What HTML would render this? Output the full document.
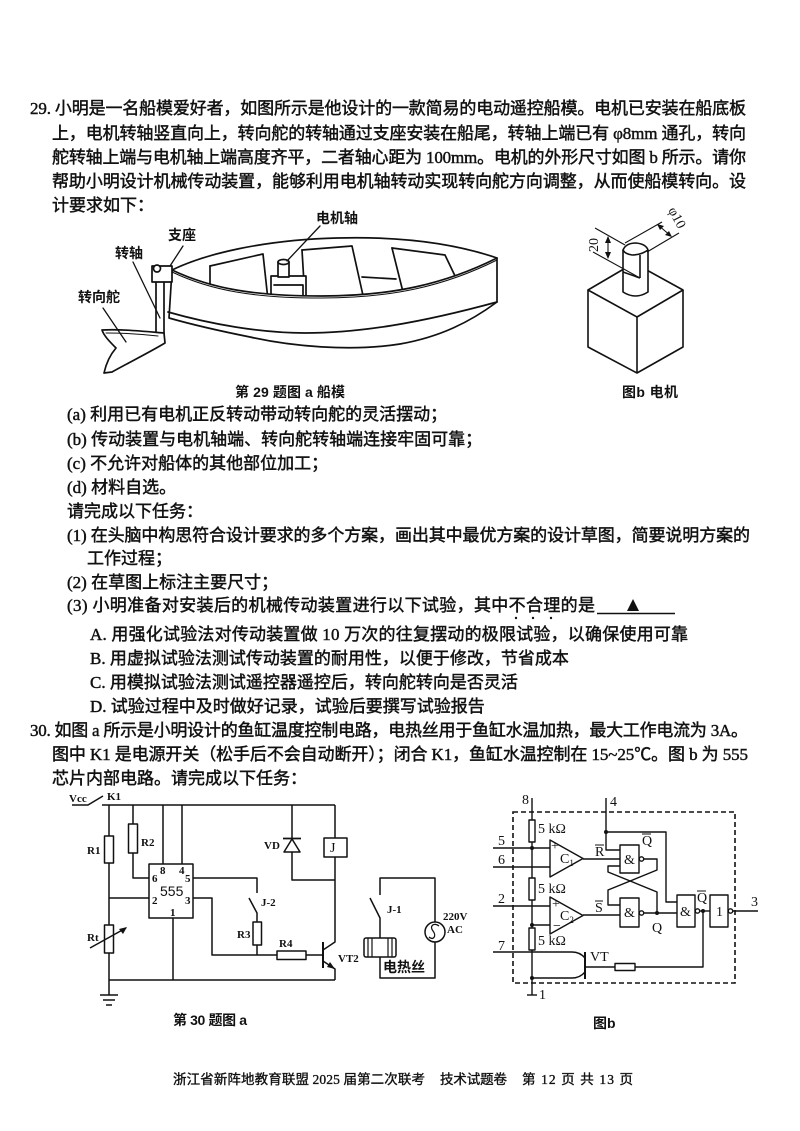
<!DOCTYPE html>
<html><head><meta charset="utf-8">
<style>
html,body{margin:0;padding:0;background:#fff;}
svg{display:block;}
.t{font-family:"Liberation Serif","Noto Sans CJK SC",serif;font-size:17px;fill:#111;stroke:#111;stroke-width:0.45px;}
.l{font-family:"Liberation Sans","Noto Sans CJK SC",sans-serif;font-size:14px;font-weight:bold;fill:#111;}
.c{font-family:"Liberation Serif","Noto Sans CJK SC",serif;font-size:11px;font-weight:bold;fill:#111;}
.b{font-family:"Liberation Serif","Noto Sans CJK SC",serif;font-size:14px;fill:#111;}
.f{font-family:"Liberation Serif","Noto Sans CJK SC",serif;font-size:13.5px;fill:#111;stroke:#111;stroke-width:0.35px;}
</style></head><body>
<svg width="800" height="1131" viewBox="0 0 800 1131" xmlns="http://www.w3.org/2000/svg">
<rect width="800" height="1131" fill="#fff"/>

<!-- ========== Question 29 text ========== -->
<text class="t" x="30" y="114" textLength="716" lengthAdjust="spacing">29. 小明是一名船模爱好者，如图所示是他设计的一款简易的电动遥控船模。电机已安装在船底板</text>
<text class="t" x="52" y="139" textLength="694" lengthAdjust="spacing">上，电机转轴竖直向上，转向舵的转轴通过支座安装在船尾，转轴上端已有 φ8mm 通孔，转向</text>
<text class="t" x="52" y="163" textLength="694" lengthAdjust="spacing">舵转轴上端与电机轴上端高度齐平，二者轴心距为 100mm。电机的外形尺寸如图 b 所示。请你</text>
<text class="t" x="52" y="187" textLength="694" lengthAdjust="spacing">帮助小明设计机械传动装置，能够利用电机轴转动实现转向舵方向调整，从而使船模转向。设</text>
<text class="t" x="52" y="211">计要求如下：</text>

<!-- ========== Boat figure ========== -->
<g fill="none" stroke="#111" stroke-width="1.7" stroke-linejoin="round" stroke-linecap="round">
  <path d="M210,266 L263,254 L268,300"/>
  <path d="M210,266 L210,300"/>
  <path d="M302,250 L352,246 L364,300"/>
  <path d="M302,250 L305,300"/>
  <path d="M362,277 L396,279"/>
  <path d="M392,248 L445,255 L456,278"/>
  <path d="M392,248 L403,292"/>
  <rect x="271" y="276" width="35" height="24" fill="#fff"/>
  <path d="M274,285 L303,285 L303,300"/>
  <rect x="278" y="262" width="11" height="15" fill="#fff"/>
  <ellipse cx="283.5" cy="262" rx="5.5" ry="2.5" fill="#fff"/>
  <path d="M172,270 C205,254 262,240 337,238 C410,236 462,246 497,258"/>
  <path d="M172,270 C212,289 255,296 322,296 C392,296 445,284 497,258 L497,302 C470,322 440,337 400,344 C350,352 290,346 250,337 C215,330 190,324 169,318 Z" fill="#fff"/>
  <path d="M168,312 C210,324 260,333 305,333 C360,333 420,323 497,302"/>
  <path d="M172,272 C212,291 255,298 322,298 C392,298 445,286 497,260" stroke-width="1"/>
  <path d="M156,282 L156,333"/>
  <path d="M164,282 L164,343"/>
  <rect x="152" y="266" width="20" height="16" fill="#fff"/>
  <circle cx="157" cy="268.5" r="3.5" fill="#fff"/>
  <path d="M102,330 C120,329 140,331 164,333 L165,343 C150,352 130,362 112,372 L104,373 C106,364 110,355 116,348 C110,342 104,336 102,330 Z" fill="#fff"/>
  <path d="M106,333 C122,333 140,334 158,336" stroke-width="1"/>
  <path d="M183,246 L170,266" stroke-width="1.3"/>
  <path d="M133,262 L160,318" stroke-width="1.3"/>
  <path d="M103,308 L126,342" stroke-width="1.3"/>
  <path d="M320,226 L287,261" stroke-width="1.3"/>
</g>
<text class="l" x="168" y="240">支座</text>
<text class="l" x="316" y="223">电机轴</text>
<text class="l" x="115" y="258">转轴</text>
<text class="l" x="78" y="302">转向舵</text>
<text class="l" x="235" y="397" textLength="110" lengthAdjust="spacing">第 29 题图 a 船模</text>

<!-- ========== Motor figure b ========== -->
<g fill="none" stroke="#111" stroke-width="1.6" stroke-linejoin="round">
  <path d="M588,290 L637,317 L683,290 L634,263 Z" fill="#fff"/>
  <path d="M588,290 L588,347 L637,373 L683,347 L683,290"/>
  <path d="M637,317 L637,373"/>
  <path d="M623,250 L623,292 Q635.5,300 648,292 L648,250" fill="#fff"/>
  <path d="M623,250 Q626,243 636,243 Q646,244 648,250 Q641,255 632,255 Q625,254 623,250 Z" fill="#fff"/>
  <path d="M640,255 L640,278"/>
  <path d="M623,272 L640,278"/>
  <path d="M595,228 L625,245" stroke-width="1.1"/>
  <path d="M593,252 L640,278" stroke-width="1.1"/>
  <path d="M608,237 L608,258" stroke-width="1.1"/>
  <path d="M625,243 L662,222" stroke-width="1.1"/>
  <path d="M647,252 L679,233" stroke-width="1.1"/>
  <path d="M658,225 L671,236" stroke-width="1.1"/>
</g>
<path d="M608,236 L605,243 L611,243 Z M608,259 L605,252 L611,252 Z" fill="#111"/>
<path d="M657,224 L664,226 L660,230 Z M672,237 L665,235 L669,231 Z" fill="#111"/>
<text class="b" x="0" y="0" font-size="12" transform="translate(598,252) rotate(-90)">20</text>
<text class="b" x="0" y="0" font-size="12" transform="translate(668,210) rotate(62)">φ10</text>
<text class="l" x="622" y="397" textLength="56" lengthAdjust="spacing">图b 电机</text>

<!-- ========== Requirements & tasks ========== -->
<text class="t" x="67" y="420">(a) 利用已有电机正反转动带动转向舵的灵活摆动；</text>
<text class="t" x="67" y="445">(b) 传动装置与电机轴端、转向舵转轴端连接牢固可靠；</text>
<text class="t" x="67" y="469">(c) 不允许对船体的其他部位加工；</text>
<text class="t" x="67" y="493">(d) 材料自选。</text>
<text class="t" x="67" y="517">请完成以下任务：</text>
<text class="t" x="67" y="541" textLength="683" lengthAdjust="spacing">(1) 在头脑中构思符合设计要求的多个方案，画出其中最优方案的设计草图，简要说明方案的</text>
<text class="t" x="87" y="564">工作过程；</text>
<text class="t" x="67" y="588">(2) 在草图上标注主要尺寸；</text>
<text class="t" x="67" y="611" textLength="528" lengthAdjust="spacing">(3) 小明准备对安装后的机械传动装置进行以下试验，其中不合理的是</text>
<circle cx="516" cy="618" r="1.2" fill="#111"/>
<circle cx="533" cy="618" r="1.2" fill="#111"/>
<circle cx="551" cy="618" r="1.2" fill="#111"/>
<path d="M597,613.5 L675,613.5" stroke="#111" stroke-width="1.4"/>
<path d="M627,611 L633,599 L639,611 Z" fill="#111"/>
<text class="t" x="90" y="640" textLength="598" lengthAdjust="spacing">A. 用强化试验法对传动装置做 10 万次的往复摆动的极限试验，以确保使用可靠</text>
<text class="t" x="90" y="664">B. 用虚拟试验法测试传动装置的耐用性，以便于修改，节省成本</text>
<text class="t" x="90" y="688">C. 用模拟试验法测试遥控器遥控后，转向舵转向是否灵活</text>
<text class="t" x="90" y="712">D. 试验过程中及时做好记录，试验后要撰写试验报告</text>

<!-- ========== Question 30 text ========== -->
<text class="t" x="30" y="736" textLength="718" lengthAdjust="spacing">30. 如图 a 所示是小明设计的鱼缸温度控制电路，电热丝用于鱼缸水温加热，最大工作电流为 3A。</text>
<text class="t" x="52" y="760" textLength="696" lengthAdjust="spacing">图中 K1 是电源开关（松手后不会自动断开）；闭合 K1，鱼缸水温控制在 15~25℃。图 b 为 555</text>
<text class="t" x="52" y="784">芯片内部电路。请完成以下任务：</text>

<!-- ========== Circuit a ========== -->
<g fill="none" stroke="#111" stroke-width="1.5" stroke-linejoin="round">
  <path d="M72,805 L88,805 L103,796"/>
  <path d="M102,805 L335,805"/>
  <path d="M109,805 L109,836 M109,863 L109,925 M109,953 L109,995"/>
  <rect x="104.5" y="836" width="9" height="27"/>
  <rect x="104.5" y="925" width="9" height="28"/>
  <path d="M90,948 L126,928"/>
  <path d="M109,898 L149,898"/>
  <path d="M100,995 L118,995 M103,1000 L115,1000 M106,1005 L112,1005" stroke-width="1.6"/>
  <path d="M109,980 L335,980"/>
  <path d="M133,805 L133,824 M133,853 L133,878 L149,878"/>
  <rect x="128.5" y="824" width="9" height="29"/>
  <rect x="149" y="864" width="44" height="54"/>
  <path d="M163,805 L163,864 M182,805 L182,864"/>
  <path d="M173,918 L173,980"/>
  <path d="M193,878 L257,878 L257,893"/>
  <path d="M249,898 L257,913 L257,922"/>
  <rect x="253" y="922" width="8.5" height="23"/>
  <path d="M257,945 L257,955"/>
  <path d="M193,898 L212,898 L212,955 L277,955"/>
  <rect x="277" y="951" width="29" height="8.5"/>
  <path d="M306,955 L323,955"/>
  <path d="M323,942 L323,968" stroke-width="2"/>
  <path d="M323,950 L335,942 L335,857"/>
  <path d="M323,961 L335,969 L335,980"/>
  <path d="M292,805 L292,838 M292,852 L292,880 L335,880"/>
  <path d="M284,852 L300,852 L292,839 Z"/>
  <path d="M283,838.5 L301,838.5" stroke-width="1.8"/>
  <path d="M335,805 L335,838"/>
  <rect x="324" y="838" width="23" height="19"/>
  <path d="M380,895 L380,878 L435,878 L435,922 M435,942 L435,978 L380,978 L380,957"/>
  <path d="M370,898 L380,918 L380,938"/>
  <rect x="364" y="938" width="32" height="19" rx="2"/>
  <path d="M368,938 L368,957 M372,938 L372,957 M388,938 L388,957 M392,938 L392,957" stroke-width="1.2"/>
  <circle cx="435" cy="932" r="10"/>
  <path d="M439,926 C434,922 429,926 433,931 C437,936 433,941 429,937" stroke-width="1.3"/>
</g>
<path d="M127,927 L119,929 L123,934 Z" fill="#111"/>
<path d="M335,969 L327,967 L330,962 Z" fill="#111"/>
<text class="c" x="69" y="802">Vcc</text>
<text class="c" x="107" y="800">K1</text>
<text class="c" x="87" y="854">R1</text>
<text class="c" x="141" y="846">R2</text>
<text class="c" x="87" y="941">Rt</text>
<text class="c" x="237" y="938">R3</text>
<text class="c" x="279" y="947">R4</text>
<text class="c" x="264" y="849">VD</text>
<text class="c" x="261" y="906">J-2</text>
<text class="c" x="387" y="913">J-1</text>
<text class="c" x="338" y="962">VT2</text>
<text class="c" x="443" y="920" font-size="9">220V</text>
<text class="c" x="447" y="933" font-size="9">AC</text>
<text class="b" x="330" y="852" font-size="14">J</text>
<text class="c" x="160" y="874" font-size="10">8</text>
<text class="c" x="179" y="874" font-size="10">4</text>
<text class="c" x="152" y="882" font-size="10">6</text>
<text class="c" x="185" y="882" font-size="10">5</text>
<text class="c" x="152" y="904" font-size="10">2</text>
<text class="c" x="185" y="904" font-size="10">3</text>
<text class="c" x="170" y="916" font-size="10">1</text>
<text x="160" y="896" font-family="Liberation Sans, sans-serif" font-size="14" fill="#111">555</text>
<text class="l" x="383" y="972" font-size="11">电热丝</text>
<text class="l" x="173" y="1025" textLength="74" lengthAdjust="spacing">第 30 题图 a</text>

<!-- ========== Circuit b (555 internals) ========== -->
<rect x="513" y="812" width="222" height="171" fill="none" stroke="#111" stroke-width="1.6" stroke-dasharray="5,3"/>
<g fill="none" stroke="#111" stroke-width="1.4" stroke-linejoin="round">
  <path d="M532,798 L532,820 M532,842 L532,878 M532,900 L532,928 M532,950 L532,995"/>
  <rect x="529" y="820" width="6" height="22"/>
  <rect x="529" y="878" width="6" height="22"/>
  <rect x="529" y="928" width="6" height="22"/>
  <path d="M527,995 L537,995"/>
  <path d="M493,848 L550,848"/>
  <path d="M493,867 L550,867"/>
  <path d="M493,906 L550,906"/>
  <path d="M532,925 L550,925"/>
  <path d="M550,840 L550,877 L583,858.5 Z"/>
  <path d="M550,897 L550,934 L583,915.5 Z"/>
  <path d="M583,859 L620,859"/>
  <path d="M583,915 L620,915"/>
  <path d="M606,798 L606,850 L620,850"/>
  <path d="M606,832 L666,832 L666,902 L677,902"/>
  <rect x="620" y="845" width="19" height="28"/>
  <rect x="620" y="898" width="19" height="29"/>
  <rect x="677" y="895" width="18" height="32"/>
  <rect x="710" y="895" width="18" height="32"/>
  <circle cx="641.5" cy="859" r="2.2" fill="#fff"/>
  <circle cx="641.5" cy="913" r="2.2" fill="#fff"/>
  <circle cx="697.5" cy="911" r="2.2" fill="#fff"/>
  <circle cx="730.5" cy="911" r="2.2" fill="#fff"/>
  <path d="M644,859 L657,859 L657,870 L608,890 L608,905 L620,905"/>
  <path d="M644,913 L677,913"/>
  <path d="M657,913 L657,892 L608,872 L608,866 L620,866"/>
  <path d="M700,911 L710,911"/>
  <path d="M733,911 L758,911"/>
  <path d="M493,952 L572,952 Q580,952 585,958"/>
  <path d="M585,972 Q580,978 572,978 L532,978"/>
  <path d="M585,952 L585,979" stroke-width="2"/>
  <path d="M585,967 L615,967"/>
  <rect x="615" y="963.5" width="20" height="7"/>
  <path d="M635,967 L703,967 L703,911"/>
</g>
<circle cx="532" cy="848" r="2" fill="#111"/>
<circle cx="532" cy="925" r="2" fill="#111"/>
<circle cx="532" cy="978" r="2" fill="#111"/>
<circle cx="606" cy="832" r="2" fill="#111"/>
<circle cx="657" cy="913" r="2" fill="#111"/>
<circle cx="703" cy="911" r="2" fill="#111"/>
<text class="b" x="522" y="804" font-size="13">8</text>
<text class="b" x="610" y="806" font-size="13">4</text>
<text class="b" x="498" y="845" font-size="13">5</text>
<text class="b" x="498" y="864" font-size="13">6</text>
<text class="b" x="498" y="903" font-size="13">2</text>
<text class="b" x="498" y="950" font-size="13">7</text>
<text class="b" x="751" y="906" font-size="13">3</text>
<text class="b" x="539" y="999" font-size="13">1</text>
<text class="b" x="538" y="833" font-size="12">5 kΩ</text>
<text class="b" x="538" y="893" font-size="12">5 kΩ</text>
<text class="b" x="538" y="945" font-size="12">5 kΩ</text>
<text class="b" x="551" y="850" font-size="11">+</text>
<text class="b" x="560" y="863" font-size="13">C<tspan font-size="9" dy="3">1</tspan></text>
<text class="b" x="552" y="908" font-size="11">+</text>
<text class="b" x="553" y="930" font-size="11">−</text>
<text class="b" x="560" y="920" font-size="13">C<tspan font-size="9" dy="3">2</tspan></text>
<text class="b" x="595" y="856" font-size="13">R</text>
<path d="M595,845 L604,845" stroke="#111" stroke-width="1"/>
<text class="b" x="595" y="912" font-size="13">S</text>
<path d="M595,901 L603,901" stroke="#111" stroke-width="1"/>
<text class="b" x="642" y="845" font-size="13">Q</text>
<path d="M642,834 L651,834" stroke="#111" stroke-width="1"/>
<text class="b" x="652" y="932" font-size="13">Q</text>
<text class="b" x="697" y="902" font-size="13">Q</text>
<path d="M697,891 L706,891" stroke="#111" stroke-width="1"/>
<text class="b" x="624" y="864" font-size="12">&amp;</text>
<text class="b" x="624" y="917" font-size="12">&amp;</text>
<text class="b" x="680" y="916" font-size="12">&amp;</text>
<text class="b" x="716" y="916" font-size="12">1</text>
<text class="b" x="590" y="961" font-size="12">VT</text>
<text class="l" x="593" y="1028">图b</text>

<!-- ========== Footer ========== -->
<text class="f" x="173" y="1084" textLength="252" lengthAdjust="spacing">浙江省新阵地教育联盟 2025 届第二次联考</text>
<text class="f" x="440" y="1084" textLength="67" lengthAdjust="spacing">技术试题卷</text>
<text class="f" x="522" y="1084" textLength="111" lengthAdjust="spacing">第 12 页 共 13 页</text>
</svg>
</body></html>
